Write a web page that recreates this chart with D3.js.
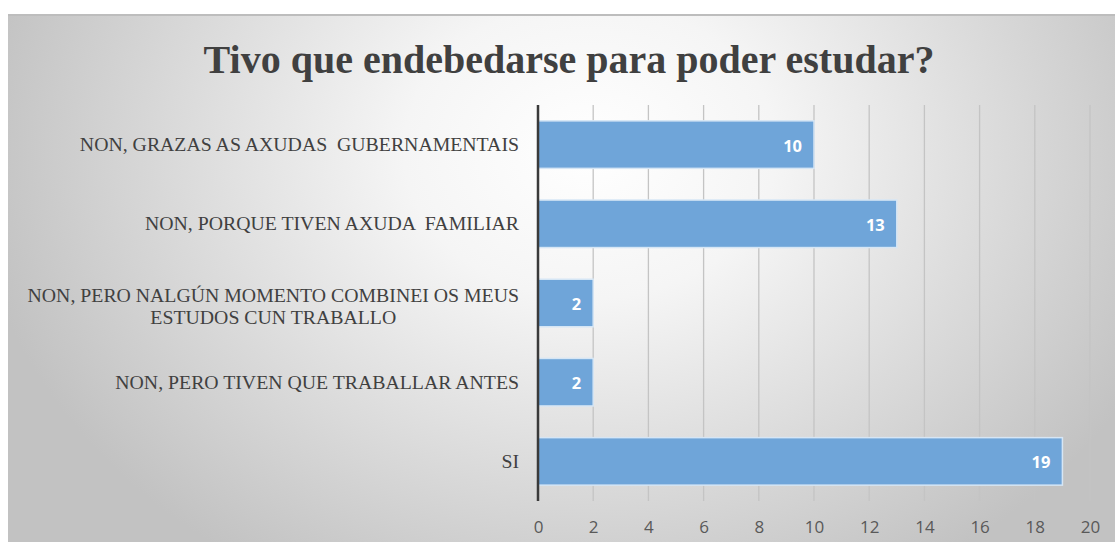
<!DOCTYPE html>
<html>
<head>
<meta charset="utf-8">
<script src="https://cdn.jsdelivr.net/npm/d3@7"></script>
<style>
  body { margin: 0; background: #fff; }
  svg { display: block; }
  .serif { font-family: 'Liberation Serif', Tinos, 'Times New Roman', serif; }
  .sans { font-family: 'Open Sans', 'Liberation Sans', sans-serif; }
</style>
</head>
<body>
<svg width="1115" height="542"></svg>
<script>
// data
const categories = [
  'NON, GRAZAS AS AXUDAS  GUBERNAMENTAIS',
  'NON, PORQUE TIVEN AXUDA  FAMILIAR',
  'NON, PERO NALGÚN MOMENTO COMBINEI OS MEUS|ESTUDOS CUN TRABALLO',
  'NON, PERO TIVEN QUE TRABALLAR ANTES',
  'SI'
];
const values = [10, 13, 2, 2, 19];
const xTicks = [0, 2, 4, 6, 8, 10, 12, 14, 16, 18, 20];
const title = 'Tivo que endebedarse para poder estudar?';

const svg = d3.select('svg');
const W = 1115, H = 542;

// background panel with radial gradient
const defs = svg.append('defs');
const grad = defs.append('radialGradient')
  .attr('id', 'bg')
  .attr('gradientUnits', 'userSpaceOnUse')
  .attr('cx', 590).attr('cy', 150).attr('r', 620)
  .attr('gradientTransform', 'translate(590,150) scale(1,0.8) translate(-590,-150)');
grad.append('stop').attr('offset', '0%').attr('stop-color', '#ffffff');
grad.append('stop').attr('offset', '30%').attr('stop-color', '#f5f5f5');
grad.append('stop').attr('offset', '100%').attr('stop-color', '#c2c2c2');

svg.append('rect')
  .attr('x', 8).attr('y', 15)
  .attr('width', W - 8).attr('height', H - 15)
  .attr('fill', 'url(#bg)');
svg.append('line')
  .attr('x1', 8).attr('x2', W).attr('y1', 15).attr('y2', 15)
  .style('stroke', '#bdbdbd').style('stroke-width', 2);

svg.append('text')
  .attr('class', 'serif')
  .text(title)
  .attr('x', 569).attr('y', 73)
  .style('text-anchor', 'middle')
  .style('font-weight', 'bold')
  .style('font-size', '40px')
  .style('fill', '#404040');

const x = d3.scaleLinear().domain([0, 20]).range([538, 1090]);
const y = d3.scaleBand().domain(d3.range(categories.length)).range([105, 501]).paddingInner(0.4).paddingOuter(0.2);

// gridlines
svg.append('g')
  .selectAll('line')
  .data(xTicks.filter(d => d > 0))
  .join('line')
  .attr('x1', d => x(d)).attr('x2', d => x(d))
  .attr('y1', 105).attr('y2', 501)
  .style('stroke', '#c4c4c4')
  .style('stroke-width', 1.3);

// bars
svg.append('g')
  .selectAll('rect')
  .data(values)
  .join('rect')
  .attr('x', x(0))
  .attr('y', (d, i) => y(i))
  .attr('width', d => x(d) - x(0))
  .attr('height', y.bandwidth())
  .style('fill', '#6fa5d9')
  .style('stroke', '#d6e6f5')
  .style('stroke-width', 1.5);

// value labels
svg.append('g')
  .selectAll('text')
  .data(values)
  .join('text')
  .attr('class', 'sans')
  .text(d => d)
  .attr('x', d => x(d) - 12)
  .attr('y', (d, i) => y(i) + y.bandwidth() / 2 + 7)
  .style('text-anchor', 'end')
  .style('font-weight', 'bold')
  .style('font-size', '16.5px')
  .style('fill', '#ffffff');

// category labels (multi-line block is centred, block right edge at 519)
const catG = svg.append('g');
categories.forEach((c, i) => {
  const lines = c.split('|');
  const cy = y(i) + y.bandwidth() / 2;
  const t = catG.append('text')
    .attr('class', 'serif')
    .attr('y', lines.length > 1 ? cy - 1.5 : cy + 6.5)
    .style('font-size', '19.8px')
    .style('fill', '#404040')
    .style('white-space', 'pre');
  const spans = lines.map((l, j) => t.append('tspan')
    .attr('dy', j === 0 ? 0 : 22)
    .text(l));
  const widest = d3.max(spans, s => s.node().getComputedTextLength());
  spans.forEach(s => s.attr('x', 519 - widest / 2).style('text-anchor', 'middle'));
});

// category axis line
svg.append('line')
  .attr('x1', x(0)).attr('x2', x(0))
  .attr('y1', 105).attr('y2', 501)
  .style('stroke', '#3a3a3a')
  .style('stroke-width', 2.5);

// x axis tick labels
const xAxis = d3.axisBottom(x).tickValues(xTicks).tickSize(0).tickPadding(0);
const gx = svg.append('g').attr('transform', 'translate(0,521)').call(xAxis);
gx.select('.domain').remove();
gx.selectAll('text')
  .attr('class', 'sans')
  .style('font-size', '17px')
  .style('fill', '#595959');
</script>
</body>
</html>
